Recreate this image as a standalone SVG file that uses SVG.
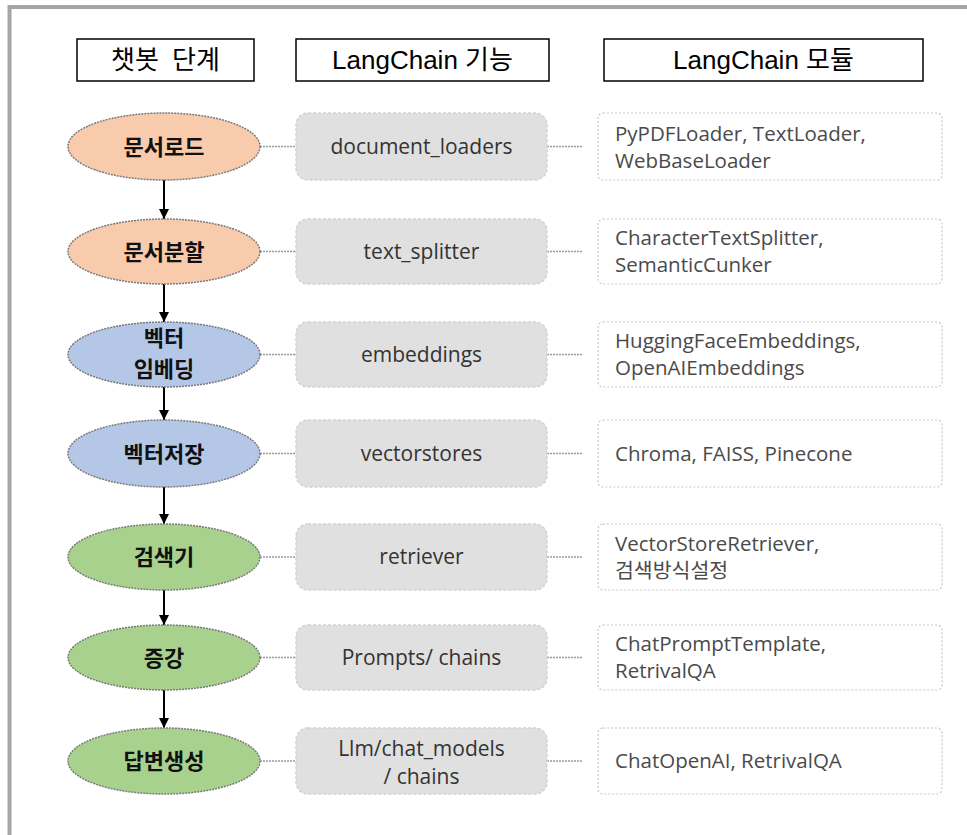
<svg xmlns="http://www.w3.org/2000/svg" width="967" height="835" viewBox="0 0 967 835">
<defs>
<marker id="ah" viewBox="0 0 10 10" refX="10" refY="5" markerWidth="5" markerHeight="5" orient="auto" markerUnits="strokeWidth">
<path d="M0,0 L10,5 L0,10 z" fill="#000"/>
</marker>
<style>
.hdr{fill:#fff;stroke:#000;stroke-width:1.5}
.ht{font-family:"Liberation Sans","Noto Sans CJK KR",sans-serif;font-size:26px;fill:#000;text-anchor:middle}
.ell{stroke:#7a7a7a;stroke-width:1.5;stroke-dasharray:2 1}
.or{fill:#f8cbad}.bl{fill:#b4c7e7}.gr{fill:#a9d18e}
.et{font-family:"Noto Sans CJK KR",sans-serif;font-weight:bold;font-size:22px;fill:#111;text-anchor:middle}
.gb{fill:#e0e0e0;stroke:#d2d2d2;stroke-width:1.5;stroke-dasharray:3 2}
.gt{font-family:"Open Sans","Noto Sans CJK KR",sans-serif;font-size:21px;fill:#333;text-anchor:middle}
.mb{fill:#fff;stroke:#c8c8c8;stroke-width:1.2;stroke-dasharray:2 2}
.mt{font-family:"Open Sans","Noto Sans CJK KR",sans-serif;font-size:20.5px;fill:#4a4a4a}
.dot{stroke:#9a9a9a;stroke-width:1.5;stroke-dasharray:2 1;fill:none}
.arr{stroke:#000;stroke-width:2;fill:none}
</style>
</defs>
<path d="M9.5,835 V7 H967" fill="none" stroke="#a6a6a6" stroke-width="4"/>

<g id="header1"><rect class="hdr" x="77" y="39" width="177" height="42"/><text class="ht" x="165.5" y="69" word-spacing="6">챗봇 단계</text></g>
<g id="header2"><rect class="hdr" x="296" y="39" width="253" height="42"/><text class="ht" x="422.5" y="69">LangChain 기능</text></g>
<g id="header3"><rect class="hdr" x="604" y="39" width="319" height="42"/><text class="ht" x="763.5" y="69">LangChain 모듈</text></g>

<g id="connectors">
<path class="arr" d="M164,180 V219" marker-end="url(#ah)"/>
<path class="arr" d="M164,284 V322" marker-end="url(#ah)"/>
<path class="arr" d="M164,387 V420" marker-end="url(#ah)"/>
<path class="arr" d="M164,487 V524" marker-end="url(#ah)"/>
<path class="arr" d="M164,590 V625" marker-end="url(#ah)"/>
<path class="arr" d="M164,690 V728" marker-end="url(#ah)"/>
<path class="dot" d="M260,146.5 H296 M547,146.5 H583"/>
<path class="dot" d="M260,251.5 H296 M547,251.5 H583"/>
<path class="dot" d="M260,354.5 H296 M547,354.5 H583"/>
<path class="dot" d="M260,453.5 H296 M547,453.5 H583"/>
<path class="dot" d="M260,557 H296 M547,557 H583"/>
<path class="dot" d="M260,657.5 H296 M547,657.5 H583"/>
<path class="dot" d="M260,761 H296 M547,761 H583"/>
</g>

<g id="step1"><ellipse class="ell or" cx="164" cy="146.5" rx="96" ry="33.5"/><text class="et" x="164" y="154.5">문서로드</text></g>
<g id="step2"><ellipse class="ell or" cx="164" cy="251.5" rx="96" ry="32.5"/><text class="et" x="164" y="259.5">문서분할</text></g>
<g id="step3"><ellipse class="ell bl" cx="164" cy="354.5" rx="96" ry="32.5"/><text class="et" x="164" y="346">벡터</text><text class="et" x="164" y="377">임베딩</text></g>
<g id="step4"><ellipse class="ell bl" cx="164" cy="453.5" rx="96" ry="33.5"/><text class="et" x="164" y="461.5">벡터저장</text></g>
<g id="step5"><ellipse class="ell gr" cx="164" cy="557" rx="96" ry="33"/><text class="et" x="164" y="565">검색기</text></g>
<g id="step6"><ellipse class="ell gr" cx="164" cy="657.5" rx="96" ry="32.5"/><text class="et" x="164" y="665.5">증강</text></g>
<g id="step7"><ellipse class="ell gr" cx="164" cy="761" rx="96" ry="33"/><text class="et" x="164" y="769">답변생성</text></g>

<g id="func1"><rect class="gb" x="296" y="113" width="251" height="67" rx="12"/><text class="gt" x="421.5" y="153.5">document_loaders</text></g>
<g id="func2"><rect class="gb" x="296" y="219" width="251" height="65" rx="12"/><text class="gt" x="421.5" y="258.5">text_splitter</text></g>
<g id="func3"><rect class="gb" x="296" y="322" width="251" height="65" rx="12"/><text class="gt" x="421.5" y="361.5">embeddings</text></g>
<g id="func4"><rect class="gb" x="296" y="420" width="251" height="67" rx="12"/><text class="gt" x="421.5" y="460.5">vectorstores</text></g>
<g id="func5"><rect class="gb" x="296" y="524" width="251" height="66" rx="12"/><text class="gt" x="421.5" y="564">retriever</text></g>
<g id="func6"><rect class="gb" x="296" y="625" width="251" height="65" rx="12"/><text class="gt" x="421.5" y="664.5">Prompts/ chains</text></g>
<g id="func7"><rect class="gb" x="296" y="728" width="251" height="66" rx="12"/><text class="gt" x="421.5" y="756">Llm/chat_models</text><text class="gt" x="421.5" y="784">/ chains</text></g>

<g id="mod1"><rect class="mb" x="598" y="113" width="344" height="67" rx="5"/><text class="mt" x="615" y="141">PyPDFLoader, TextLoader,</text><text class="mt" x="615" y="168">WebBaseLoader</text></g>
<g id="mod2"><rect class="mb" x="598" y="219" width="344" height="65" rx="5"/><text class="mt" x="615" y="245">CharacterTextSplitter,</text><text class="mt" x="615" y="272">SemanticCunker</text></g>
<g id="mod3"><rect class="mb" x="598" y="322" width="344" height="65" rx="5"/><text class="mt" x="615" y="348">HuggingFaceEmbeddings,</text><text class="mt" x="615" y="375">OpenAIEmbeddings</text></g>
<g id="mod4"><rect class="mb" x="598" y="420" width="344" height="67" rx="5"/><text class="mt" x="615" y="461">Chroma, FAISS, Pinecone</text></g>
<g id="mod5"><rect class="mb" x="598" y="524" width="344" height="66" rx="5"/><text class="mt" x="615" y="551">VectorStoreRetriever,</text><text class="mt" x="615" y="578">검색방식설정</text></g>
<g id="mod6"><rect class="mb" x="598" y="625" width="344" height="65" rx="5"/><text class="mt" x="615" y="651">ChatPromptTemplate,</text><text class="mt" x="615" y="678">RetrivalQA</text></g>
<g id="mod7"><rect class="mb" x="598" y="728" width="344" height="66" rx="5"/><text class="mt" x="615" y="768">ChatOpenAI, RetrivalQA</text></g>
</svg>
